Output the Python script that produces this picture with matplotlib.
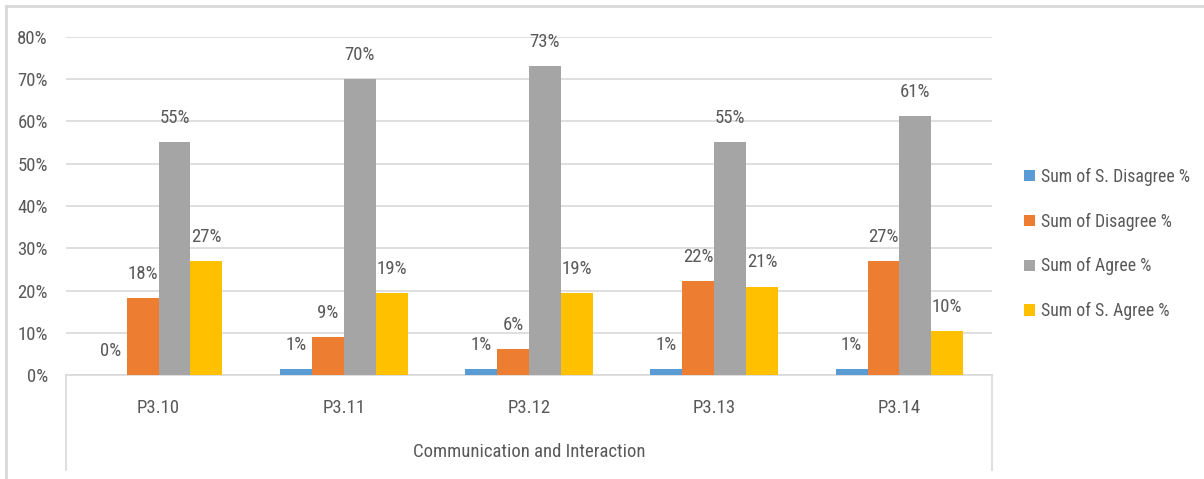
import matplotlib
matplotlib.use("Agg")
import matplotlib.pyplot as plt
import numpy as np
from matplotlib import font_manager
from matplotlib.lines import Line2D

categories = ["P3.10", "P3.11", "P3.12", "P3.13", "P3.14"]
group_label = "Communication and Interaction"
series_names = [
    "Sum of S. Disagree %",
    "Sum of Disagree %",
    "Sum of Agree %",
    "Sum of S. Agree %",
]
s_disagree = [0.0, 1.4, 1.4, 1.4, 1.4]
disagree = [18.2, 9.0, 6.1, 22.2, 27.0]
agree = [55.2, 70.0, 73.1, 55.2, 61.2]
s_agree = [27.0, 19.4, 19.4, 20.9, 10.4]

colors = ["#5B9BD5", "#ED7D31", "#A5A5A5", "#FFC000"]
text_color = "#595959"
grid_color = "#D9D9D9"

available = {f.name for f in font_manager.fontManager.ttflist}
family = "DejaVu Sans"
for name in ["Liberation Sans Narrow", "Roboto Condensed", "Open Sans Condensed", "Liberation Sans"]:
    if name in available:
        family = name
        break
plt.rcParams["font.family"] = [family, "DejaVu Sans"]
fs = 13.5

W, H = 1204, 479
fig = plt.figure(figsize=(W / 100, H / 100), dpi=100)
ax = fig.add_axes([66 / W, 1 - 375 / H, (992 - 66) / W, (375 - 37) / H])

values = [s_disagree, disagree, agree, s_agree]
x = np.arange(len(categories))
bw = 0.172
for i, (vals, col, name) in enumerate(zip(values, colors, series_names)):
    pos = x + (i - 1.5) * bw
    ax.bar(pos, vals, width=bw, color=col, label=name, zorder=3)
    for px, v in zip(pos, vals):
        ax.annotate(f"{round(v):d}%", (px, v), xytext=(0, 11), textcoords="offset points",
                    ha="center", va="bottom", fontsize=fs, color=text_color)

ax.set_xlim(-0.5, len(categories) - 0.5)
ax.set_ylim(0, 80)
ax.set_yticks(range(0, 81, 10))
ax.set_yticklabels([f"{t}%" for t in range(0, 81, 10)])
ax.yaxis.grid(True, color=grid_color, linewidth=1.2, zorder=0)
ax.tick_params(axis="y", length=0, pad=13, labelsize=fs, labelcolor=text_color)
ax.set_xticks(x)
ax.set_xticklabels(categories)
ax.tick_params(axis="x", length=0, pad=17, labelsize=fs, labelcolor=text_color)
for s in ["left", "right", "top"]:
    ax.spines[s].set_visible(False)
ax.spines["bottom"].set_color(grid_color)
ax.spines["bottom"].set_linewidth(1.2)

# multi-level category box
depth = (470 - 375) / (375 - 37)
for xa in [0, 1]:
    ax.add_line(Line2D([xa, xa], [0, -depth], transform=ax.transAxes,
                       color=grid_color, linewidth=1.2, clip_on=False))
ax.text(0.5, -(452 - 375) / (375 - 37), group_label, transform=ax.transAxes,
        ha="center", va="center", fontsize=fs, color=text_color)

leg = ax.legend(loc="center left", bbox_to_anchor=(1008 / W, 1 - 244 / H),
                bbox_transform=fig.transFigure, frameon=False, fontsize=12.8,
                handlelength=0.6, handleheight=0.6, handletextpad=0.35, labelspacing=1.5)
for t in leg.get_texts():
    t.set_color(text_color)

# outer chart border
fig.add_artist(Line2D([6 / W, 6 / W], [0, 1 - 6 / H], transform=fig.transFigure,
                      color=grid_color, linewidth=2))
fig.add_artist(Line2D([6 / W, 1], [1 - 6 / H, 1 - 6 / H], transform=fig.transFigure,
                      color=grid_color, linewidth=2))

fig.savefig("out.png", dpi=100)
